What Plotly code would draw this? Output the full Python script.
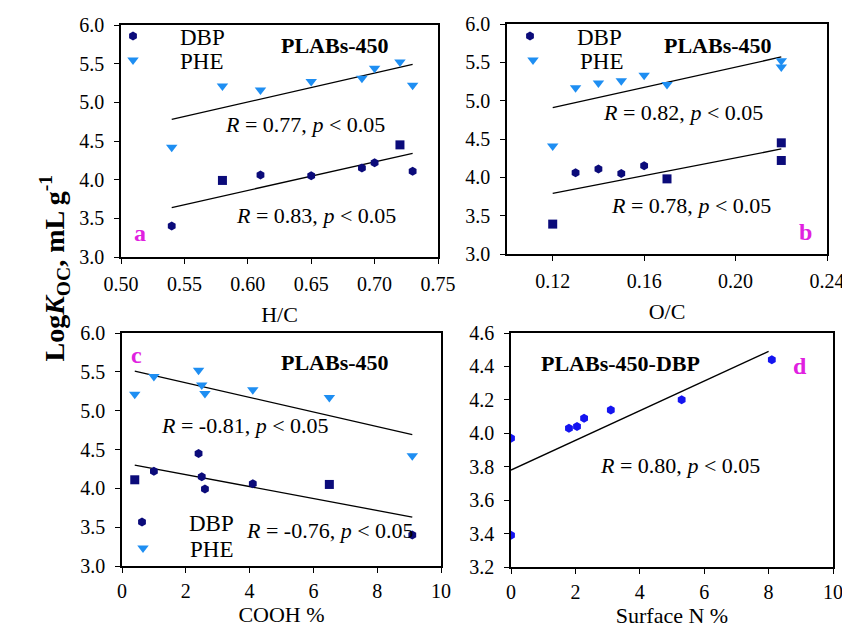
import plotly.graph_objects as go

# ---------------- data ----------------
# Panel a: H/C
hc_dbp_x = [0.54, 0.58, 0.61, 0.65, 0.69, 0.70, 0.72, 0.73]
hc_dbp_y = [3.40, 3.99, 4.06, 4.05, 4.15, 4.22, 4.45, 4.11]
hc_phe_x = [0.54, 0.58, 0.61, 0.65, 0.69, 0.70, 0.72, 0.73]
hc_phe_y = [4.42, 5.21, 5.16, 5.27, 5.31, 5.44, 5.52, 5.22]
hc_fit_phe_x = [0.54, 0.73]
hc_fit_phe_y = [4.78, 5.49]
hc_fit_dbp_x = [0.54, 0.73]
hc_fit_dbp_y = [3.64, 4.34]

# Panel b: O/C
oc_dbp_x = [0.13, 0.12, 0.14, 0.15, 0.16, 0.17, 0.22, 0.22]
oc_dbp_y = [4.06, 3.39, 4.11, 4.05, 4.15, 3.98, 4.45, 4.22]
oc_phe_x = [0.12, 0.13, 0.14, 0.15, 0.16, 0.17, 0.22, 0.22]
oc_phe_y = [4.41, 5.17, 5.23, 5.26, 5.33, 5.21, 5.52, 5.44]
oc_fit_phe_x = [0.12, 0.22]
oc_fit_phe_y = [4.91, 5.57]
oc_fit_dbp_x = [0.12, 0.22]
oc_fit_dbp_y = [3.79, 4.37]

# Panel c: COOH %
cooh_dbp_x = [1.0, 0.4, 2.4, 2.5, 2.6, 4.1, 6.5, 9.1]
cooh_dbp_y = [4.22, 4.11, 4.45, 4.15, 3.99, 4.06, 4.05, 3.40]
cooh_phe_x = [0.4, 1.0, 2.4, 2.5, 2.6, 4.1, 6.5, 9.1]
cooh_phe_y = [5.21, 5.44, 5.52, 5.33, 5.22, 5.27, 5.17, 4.42]
cooh_fit_phe_x = [0.4, 9.1]
cooh_fit_phe_y = [5.51, 4.69]
cooh_fit_dbp_x = [0.4, 9.1]
cooh_fit_dbp_y = [4.30, 3.63]

# Panel d: Surface N %
sn_dbp_x = [0.0, 0.0, 1.8, 2.05, 2.27, 3.1, 5.3, 8.1]
sn_dbp_y = [3.97, 3.39, 4.03, 4.04, 4.09, 4.14, 4.20, 4.44]
sn_fit_x = [0.0, 8.0]
sn_fit_y = [3.78, 4.49]

# ---------------- style ----------------
# the page body has an 8 px margin; the figure is sized / positioned to compensate
OX, OY = 8, 8
W, H = 850 - OX, 629 - OY
SERIF = "Liberation Serif, Times New Roman, serif"
NAVY = "#0B0B7A"
SKY = "#1E8EF2"
BLUE = "#1414F0"
MAG = "#E020E0"

hc_dbp_sym = ["hexagon", "square", "hexagon", "hexagon", "hexagon", "hexagon", "square", "hexagon"]
oc_dbp_sym = ["hexagon", "square", "hexagon", "hexagon", "hexagon", "square", "square", "square"]
cooh_dbp_sym = ["hexagon", "square", "hexagon", "hexagon", "hexagon", "hexagon", "square", "hexagon"]


def px(x):
    return (x - OX) / W


def py(y):
    return 1 - (y - OY) / H


fig = go.Figure()


def add_panel(n, dbp_x, dbp_y, dbp_sym, phe_x, phe_y, fits, leg_dbp, leg_phe):
    xa = "x" if n == 1 else f"x{n}"
    ya = "y" if n == 1 else f"y{n}"
    for fx, fy in fits:
        fig.add_trace(go.Scatter(x=fx, y=fy, mode="lines", xaxis=xa, yaxis=ya,
                                 line=dict(color="black", width=1.3), showlegend=False,
                                 hoverinfo="skip"))
    fig.add_trace(go.Scatter(x=dbp_x, y=dbp_y, mode="markers", xaxis=xa, yaxis=ya, name="DBP",
                             marker=dict(color=NAVY, size=9, symbol=dbp_sym),
                             showlegend=True, legend=leg_dbp))
    fig.add_trace(go.Scatter(x=phe_x, y=phe_y, mode="markers", xaxis=xa, yaxis=ya, name="PHE",
                             marker=dict(color=SKY, size=10, symbol="triangle-down"),
                             showlegend=True, legend=leg_phe))


add_panel(1, hc_dbp_x, hc_dbp_y, hc_dbp_sym, hc_phe_x, hc_phe_y,
          [(hc_fit_phe_x, hc_fit_phe_y), (hc_fit_dbp_x, hc_fit_dbp_y)], "legend", "legend2")
add_panel(2, oc_dbp_x, oc_dbp_y, oc_dbp_sym, oc_phe_x, oc_phe_y,
          [(oc_fit_phe_x, oc_fit_phe_y), (oc_fit_dbp_x, oc_fit_dbp_y)], "legend3", "legend4")
add_panel(3, cooh_dbp_x, cooh_dbp_y, cooh_dbp_sym, cooh_phe_x, cooh_phe_y,
          [(cooh_fit_phe_x, cooh_fit_phe_y), (cooh_fit_dbp_x, cooh_fit_dbp_y)], "legend5", "legend6")
fig.add_trace(go.Scatter(x=sn_fit_x, y=sn_fit_y, mode="lines", xaxis="x4", yaxis="y4",
                         line=dict(color="black", width=1.3), showlegend=False, hoverinfo="skip"))
fig.add_trace(go.Scatter(x=sn_dbp_x, y=sn_dbp_y, mode="markers", xaxis="x4", yaxis="y4",
                         marker=dict(color=BLUE, size=9, symbol="hexagon"), showlegend=False))

tickfont = dict(family=SERIF, size=20, color="black")
titlefont = dict(family=SERIF, size=22, color="black")


def ax(domain, rng, dtick, fmt, anchor, title=None, tick0=None, standoff=6, tstand=8):
    d = dict(domain=domain, range=rng, dtick=dtick, tickformat=fmt, anchor=anchor,
             automargin=False,
             showline=True, linecolor="black", linewidth=1.5, mirror=True,
             ticks="outside", ticklen=5, tickcolor="black", tickwidth=1.3,
             ticklabelstandoff=standoff,
             showgrid=False, zeroline=False, tickfont=tickfont)
    if tick0 is not None:
        d["tick0"] = tick0
    if title:
        d["title"] = dict(text=title, font=titlefont, standoff=tstand)
    return d


layout = dict(
    width=W, height=H, margin=dict(l=0, r=0, t=0, b=0, autoexpand=False),
    paper_bgcolor="white", plot_bgcolor="white",
    font=dict(family=SERIF, color="black"),
    xaxis=ax([px(121), px(438)], [0.5, 0.75], 0.05, ".2f", "y", "H/C", standoff=3, tstand=13),
    yaxis=ax([py(257), py(25)], [3.0, 6.0], 0.5, ".1f", "x"),
    xaxis2=ax([px(507), px(827)], [0.10, 0.24], 0.04, ".2f", "y2", "O/C", tick0=0.12,
              standoff=3, tstand=13),
    yaxis2=ax([py(254), py(24)], [3.0, 6.0], 0.5, ".1f", "x2"),
    xaxis3=ax([px(122), px(441)], [0, 10], 2, "d", "y3", "COOH %", standoff=1, tstand=1),
    yaxis3=ax([py(566), py(333)], [3.0, 6.0], 0.5, ".1f", "x3"),
    xaxis4=ax([px(511), px(833)], [0, 10], 2, "d", "y4", "Surface N %", standoff=1, tstand=1),
    yaxis4=ax([py(567), py(333)], [3.2, 4.6], 0.2, ".1f", "x4"),
)

legfont = dict(family=SERIF, size=23, color="black")
# legend anchor points: (marker centre x, item centre y) in pixels
leg_pos = {"legend": (133, 36), "legend2": (133, 60),
           "legend3": (530, 36), "legend4": (533, 60),
           "legend5": (142, 522), "legend6": (143, 548)}
for name, (mx, my) in leg_pos.items():
    layout[name] = dict(x=px(mx - 47), y=py(my), xanchor="left", yanchor="middle", font=legfont,
                        bgcolor="rgba(0,0,0,0)", itemwidth=84, borderwidth=0,
                        itemclick=False, itemdoubleclick=False)
fig.update_layout(**layout)

ann = []


def txt(x, y, text, size=18, color="black", bold=False, xanchor="center"):
    if bold:
        text = f"<b>{text}</b>"
    ann.append(dict(x=px(x), y=py(y), xref="paper", yref="paper", text=text, showarrow=False,
                    xanchor=xanchor, yanchor="middle",
                    font=dict(family=SERIF, size=size, color=color)))


R = "<i>R</i>"
P = "<i>p</i>"
txt(335, 45, "PLABs-450", 22, bold=True)
txt(305, 125, f"{R} = 0.77, {P} &lt; 0.05", 22)
txt(316, 216, f"{R} = 0.83, {P} &lt; 0.05", 22)
txt(140, 233, "a", 24, MAG, bold=True)

txt(718, 45, "PLABs-450", 22, bold=True)
txt(683, 113, f"{R} = 0.82, {P} &lt; 0.05", 22)
txt(691, 206, f"{R} = 0.78, {P} &lt; 0.05", 22)
txt(805, 232, "b", 24, MAG, bold=True)

txt(136, 355, "c", 24, MAG, bold=True)
txt(335, 362, "PLABs-450", 22, bold=True)
txt(245, 425, f"{R} = -0.81, {P} &lt; 0.05", 22)
txt(330, 530, f"{R} = -0.76, {P} &lt; 0.05", 22)

txt(620, 363, "PLABs-450-DBP", 22, bold=True)
txt(800, 366, "d", 24, MAG, bold=True)
txt(680, 465, f"{R} = 0.80, {P} &lt; 0.05", 22)

ann.append(dict(x=px(33), y=py(268), xref="paper", yref="paper", showarrow=False,
                text="<b>Log<i>K</i><sub>OC</sub>, mL g<sup>-1</sup></b>", textangle=-90,
                font=dict(family=SERIF, size=28, color="black")))
fig.update_layout(annotations=ann)

fig.write_html("out.html")
